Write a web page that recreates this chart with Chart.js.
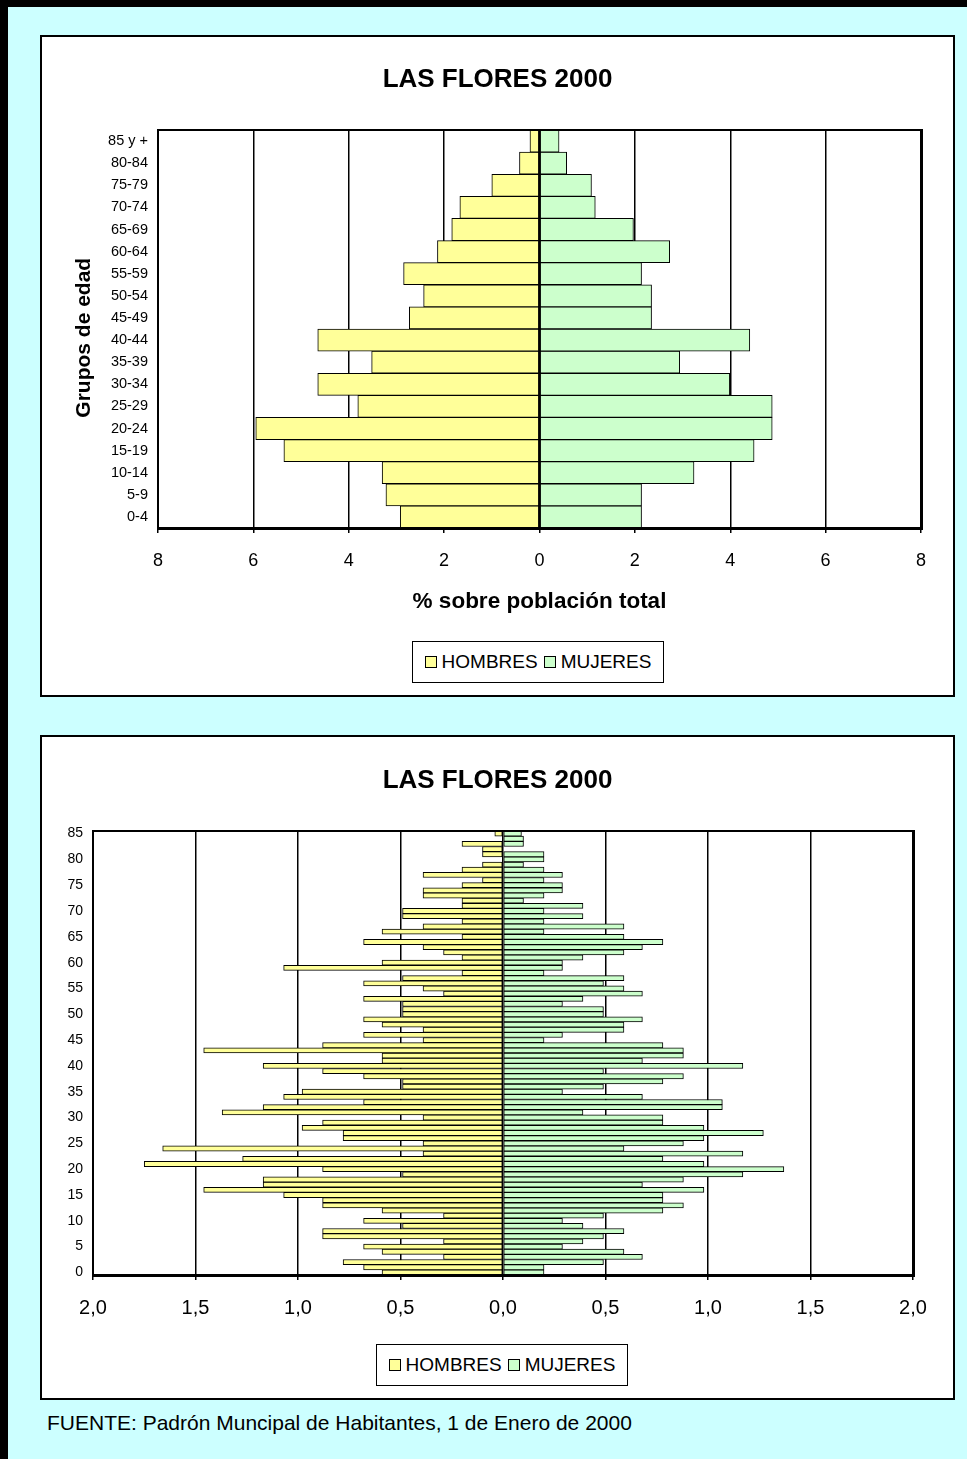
<!DOCTYPE html>
<html lang="es">
<head>
<meta charset="utf-8">
<title>Las Flores 2000 - Pirámide de población</title>
<script src="https://cdn.jsdelivr.net/npm/chart.js@4/dist/chart.umd.min.js"></script>
<style>
  html, body { margin: 0; padding: 0; }
  body {
    width: 967px; height: 1459px; position: relative; overflow: hidden;
    background: #CCFFFF;
    font-family: "Liberation Sans", Arial, sans-serif; color: #000;
  }
  #edgeTop { position: absolute; left: 0; top: 0; width: 967px; height: 7px; background: #000; }
  #edgeLeft { position: absolute; left: 0; top: 0; width: 8px; height: 1459px; background: #000; }
  .panel {
    position: absolute; left: 40px; width: 915px; box-sizing: border-box;
    background: #fff; border: 2px solid #000;
  }
  #panelGroups { top: 35px; height: 662px; }
  #panelAges { top: 735px; height: 665px; }
  .panel canvas { position: absolute; left: 0; top: 0; }
  .chartTitle {
    position: absolute; left: 0; width: 100%; text-align: center;
    font-weight: bold; font-size: 26px; line-height: 30px; white-space: nowrap;
  }
  .legend {
    position: absolute; box-sizing: border-box; width: 252px; height: 42px;
    border: 1.5px solid #000; background: #fff;
    display: flex; align-items: center; justify-content: center;
    font-size: 19px; white-space: nowrap;
  }
  .legend .item { display: inline-flex; align-items: center; margin: 0 3px; }
  .legend .swatch {
    display: inline-block; width: 12px; height: 12px; box-sizing: border-box;
    border: 1.5px solid #000; margin-right: 5px;
  }
  #source { position: absolute; left: 47px; top: 1411px; font-size: 21px; line-height: 24px; white-space: nowrap; }
</style>
</head>
<body>
<div id="edgeTop"></div>
<div id="edgeLeft"></div>

<div class="panel" id="panelGroups">
  <canvas id="chartGroups" width="911" height="658"></canvas>
  <div class="chartTitle" style="top:26px">LAS FLORES 2000</div>
  <div class="legend" id="legendGroups" style="left:370px; top:604px"></div>
</div>

<div class="panel" id="panelAges">
  <canvas id="chartAges" width="911" height="661"></canvas>
  <div class="chartTitle" style="top:27px">LAS FLORES 2000</div>
  <div class="legend" id="legendAges" style="left:334px; top:607px"></div>
</div>

<div id="source">FUENTE: Padrón Muncipal de Habitantes, 1 de Enero de 2000</div>

<script>
// ---- Five-year age groups (% of total population) ----
const ageGroups = ['0-4', '5-9', '10-14', '15-19', '20-24', '25-29', '30-34', '35-39', '40-44',
                   '45-49', '50-54', '55-59', '60-64', '65-69', '70-74', '75-79', '80-84', '85 y +'];
const menByGroup   = [2.92, 3.22, 3.30, 5.36, 5.95, 3.81, 4.65, 3.52, 4.65,
                      2.73, 2.43, 2.85, 2.14, 1.84, 1.67, 1.00, 0.42, 0.20];
const womenByGroup = [2.14, 2.14, 3.24, 4.50, 4.88, 4.88, 3.99, 2.94, 4.41,
                      2.35, 2.35, 2.14, 2.73, 1.97, 1.17, 1.09, 0.57, 0.41];

// ---- Single years of age (% of total population) ----
const singleAges = ['0', '1', '2', '3', '4', '5', '6', '7', '8', '9',
                    '10', '11', '12', '13', '14', '15', '16', '17', '18', '19',
                    '20', '21', '22', '23', '24', '25', '26', '27', '28', '29',
                    '30', '31', '32', '33', '34', '35', '36', '37', '38', '39',
                    '40', '41', '42', '43', '44', '45', '46', '47', '48', '49',
                    '50', '51', '52', '53', '54', '55', '56', '57', '58', '59',
                    '60', '61', '62', '63', '64', '65', '66', '67', '68', '69',
                    '70', '71', '72', '73', '74', '75', '76', '77', '78', '79',
                    '80', '81', '82', '83', '84', '85'];
const menByAge = [0.59, 0.68, 0.78, 0.29, 0.59, 0.68, 0.29, 0.88, 0.88, 0.49,
                  0.68, 0.29, 0.59, 0.88, 0.88, 1.07, 1.46, 1.17, 1.17, 0.49,
                  0.88, 1.75, 1.27, 0.39, 1.66, 0.39, 0.78, 0.78, 0.98, 0.88,
                  0.39, 1.37, 1.17, 0.68, 1.07, 0.98, 0.49, 0.49, 0.68, 0.88,
                  1.17, 0.59, 0.59, 1.46, 0.88, 0.39, 0.68, 0.39, 0.59, 0.68,
                  0.49, 0.49, 0.49, 0.68, 0.29, 0.39, 0.68, 0.49, 0.20, 1.07,
                  0.59, 0.20, 0.29, 0.39, 0.68, 0.20, 0.59, 0.39, 0.20, 0.49,
                  0.49, 0.20, 0.20, 0.39, 0.39, 0.20, 0.10, 0.39, 0.20, 0.10,
                  0.00, 0.10, 0.10, 0.20, 0.00, 0.04];
const womenByAge = [0.20, 0.20, 0.49, 0.68, 0.59, 0.29, 0.39, 0.49, 0.59, 0.39,
                    0.29, 0.49, 0.78, 0.88, 0.78, 0.78, 0.98, 0.68, 0.88, 1.17,
                    1.37, 0.98, 0.78, 1.17, 0.59, 0.88, 0.98, 1.27, 0.98, 0.78,
                    0.78, 0.39, 1.07, 1.07, 0.68, 0.29, 0.49, 0.78, 0.88, 0.49,
                    1.17, 0.68, 0.88, 0.88, 0.78, 0.20, 0.29, 0.59, 0.59, 0.68,
                    0.49, 0.49, 0.29, 0.39, 0.68, 0.59, 0.49, 0.59, 0.20, 0.29,
                    0.29, 0.39, 0.59, 0.68, 0.78, 0.59, 0.20, 0.59, 0.20, 0.39,
                    0.20, 0.39, 0.10, 0.20, 0.29, 0.29, 0.20, 0.29, 0.20, 0.10,
                    0.20, 0.20, 0.00, 0.10, 0.10, 0.09];

const seriesNames = ['HOMBRES', 'MUJERES'];
const seriesColors = ['#FFFF99', '#CCFFCC'];

Chart.defaults.font.family = '"Liberation Sans", Arial, sans-serif';
Chart.defaults.color = '#000';

// Black frame around the plot area, heavier on the bottom and right edges
const plotFrame = {
  id: 'plotFrame',
  afterDatasetsDraw(chart) {
    const { ctx, chartArea: a } = chart;
    ctx.save();
    ctx.strokeStyle = '#000';
    ctx.lineWidth = 2;
    ctx.strokeRect(a.left, a.top, a.right - a.left, a.bottom - a.top);
    ctx.lineWidth = 3;
    ctx.beginPath();
    ctx.moveTo(a.left - 1, a.bottom + 0.5);
    ctx.lineTo(a.right + 2, a.bottom + 0.5);
    ctx.moveTo(a.right + 0.5, a.top - 1);
    ctx.lineTo(a.right + 0.5, a.bottom + 2);
    ctx.stroke();
    ctx.restore();
  }
};

function pyramidDatasets(men, women, border) {
  return [
    { label: seriesNames[0], data: men.map(v => -v), backgroundColor: seriesColors[0],
      borderColor: '#000', borderWidth: border, borderSkipped: false,
      barPercentage: 1, categoryPercentage: 1 },
    { label: seriesNames[1], data: women, backgroundColor: seriesColors[1],
      borderColor: '#000', borderWidth: border, borderSkipped: false,
      barPercentage: 1, categoryPercentage: 1 }
  ];
}

function buildLegend(chart, el) {
  chart.data.datasets.forEach(ds => {
    const item = document.createElement('span');
    item.className = 'item';
    const sw = document.createElement('span');
    sw.className = 'swatch';
    sw.style.background = ds.backgroundColor;
    item.appendChild(sw);
    item.appendChild(document.createTextNode(ds.label));
    el.appendChild(item);
  });
}

// Five-year groups pyramid
const groupsChart = new Chart(document.getElementById('chartGroups'), {
  type: 'bar',
  data: { labels: ageGroups, datasets: pyramidDatasets(menByGroup, womenByGroup, 1) },
  plugins: [plotFrame],
  options: {
    indexAxis: 'y',
    responsive: false,
    animation: false,
    layout: { padding: { left: 10, right: 32, top: 93, bottom: 77 } },
    plugins: { legend: { display: false }, tooltip: { enabled: false } },
    scales: {
      x: {
        type: 'linear', min: -8, max: 8, stacked: true,
        afterFit: s => { s.height = 90; },
        border: { display: false },
        grid: { color: '#000', lineWidth: 1.5, tickColor: '#000', tickLength: 5, tickWidth: 1.5 },
        ticks: { stepSize: 2, padding: 17, font: { size: 18 }, color: '#000',
                 callback: v => String(Math.abs(v)) },
        title: { display: true, text: '% sobre población total', color: '#000',
                 font: { size: 22.5, weight: 'bold' }, padding: { top: 0, bottom: 2.5 } }
      },
      y: {
        type: 'category', reverse: true, stacked: true,
        afterFit: s => { s.width = 106; },
        border: { display: false },
        grid: { display: false, drawTicks: false },
        ticks: { autoSkip: false, padding: 10, font: { size: 14.5 }, color: '#000' },
        title: { display: true, text: 'Grupos de edad\u00A0\u00A0\u00A0', color: '#000',
                 font: { size: 21, weight: 'bold' }, padding: { top: 20, bottom: 0 } }
      }
    }
  }
});
buildLegend(groupsChart, document.getElementById('legendGroups'));

// Single-year pyramid
const agesChart = new Chart(document.getElementById('chartAges'), {
  type: 'bar',
  data: { labels: singleAges, datasets: pyramidDatasets(menByAge, womenByAge, 1) },
  plugins: [plotFrame],
  options: {
    indexAxis: 'y',
    responsive: false,
    animation: false,
    layout: { padding: { left: 10, right: 40, top: 94, bottom: 63 } },
    plugins: { legend: { display: false }, tooltip: { enabled: false } },
    scales: {
      x: {
        type: 'linear', min: -2, max: 2, stacked: true,
        afterFit: s => { s.height = 60; },
        border: { display: false },
        grid: { color: '#000', lineWidth: 1.5, tickColor: '#000', tickLength: 5, tickWidth: 1.5 },
        ticks: { stepSize: 0.5, padding: 16, font: { size: 20 }, color: '#000',
                 callback: v => Math.abs(v).toFixed(1).replace('.', ',') }
      },
      y: {
        type: 'category', reverse: true, stacked: true,
        afterFit: s => { s.width = 41; },
        border: { display: false },
        grid: { display: false, drawTicks: false },
        ticks: { autoSkip: false, padding: 10, font: { size: 14 }, color: '#000',
                 callback: function (value) {
                   const lab = this.getLabelForValue(value);
                   return Number(lab) % 5 === 0 ? lab : '';
                 } }
      }
    }
  }
});
buildLegend(agesChart, document.getElementById('legendAges'));
</script>
</body>
</html>
